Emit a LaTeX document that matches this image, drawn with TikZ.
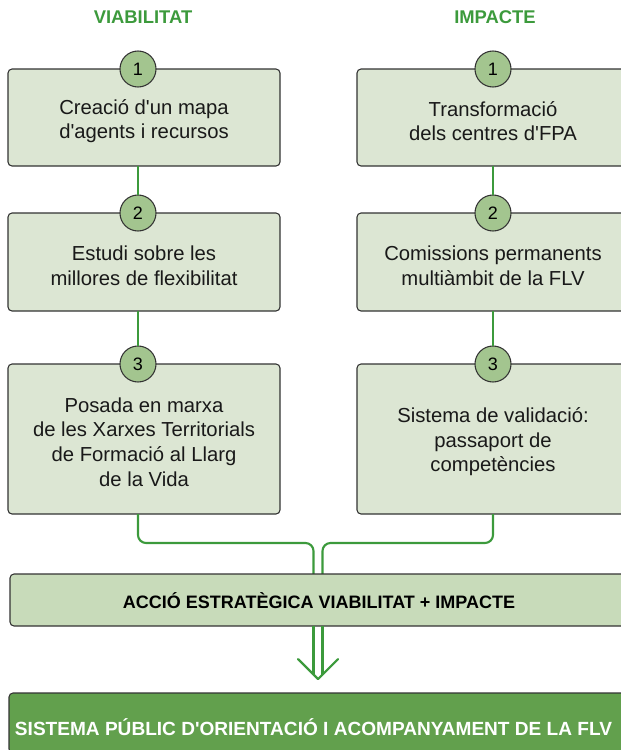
\documentclass[tikz,border=0pt]{standalone}
\usepackage{fontspec}
\setmainfont{Liberation Sans}[Ligatures=TeXOff]
\definecolor{lgreen}{HTML}{3C9A3C}
\definecolor{boxfill}{HTML}{DCE6D3}
\definecolor{circfill}{HTML}{A3C58F}
\definecolor{accfill}{HTML}{C8DBBA}
\definecolor{finfill}{HTML}{62A04D}
\definecolor{edge}{HTML}{333333}
\begin{document}
\begin{tikzpicture}[x=0.75pt,y=-0.75pt,
  stepbox/.style={draw=edge,fill=boxfill,line width=0.8pt,rounded corners=3pt,
    minimum width=204pt,inner sep=0pt,outer sep=0pt},
  steptext/.style={inner sep=0pt,align=center,
    font=\fontsize{15.2}{18.4}\selectfont,text=black!90},
  numc/.style={circle,draw=edge,fill=circfill,line width=0.8pt,minimum size=27pt,
    inner sep=0pt,outer sep=0pt,font=\fontsize{13.5}{14}\selectfont},
  head/.style={text=lgreen,font=\bfseries\fontsize{13.8}{16}\selectfont,inner sep=0pt},
  conn/.style={draw=lgreen,line width=1.6pt},
  widebox/.style={draw=edge,line width=0.8pt,rounded corners=3pt,inner sep=0pt,outer sep=0pt}
]
\useasboundingbox (0,0) rectangle (621,750);
\clip (0,0) rectangle (621,750);

% headers
\node[head] (hv) at (143,17) {VIABILITAT};
\node[head] (hi) at (495,17) {IMPACTE};

% left column
\node[stepbox,minimum height=72.75pt] (lb1) at (144,117.5) {};
\node[stepbox,minimum height=73.5pt] (lb2) at (144,262) {};
\node[stepbox,minimum height=112.5pt] (lb3) at (144,439) {};
\node[steptext] (lt1) at (144,121) {Creació d'un mapa\\d'agents i recursos};
\node[steptext] (lt2) at (144,266) {Estudi sobre les\\millores de flexibilitat};
\node[steptext] (lt3) at (144,442) {Posada en marxa\\de les Xarxes Territorials\\de Formació al Llarg\\de la Vida};
\node[numc] (lc1) at (138,69) {1};
\node[numc] (lc2) at (138,213) {2};
\node[numc] (lc3) at (138,364) {3};

% right column
\node[stepbox,minimum height=72.75pt] (rb1) at (493,117.5) {};
\node[stepbox,minimum height=73.5pt] (rb2) at (493,262) {};
\node[stepbox,minimum height=112.5pt] (rb3) at (493,439) {};
\node[steptext] (rt1) at (493,121) {Transformació\\dels centres d'FPA};
\node[steptext] (rt2) at (493,266) {Comissions permanents\\multiàmbit de la FLV};
\node[steptext] (rt3) at (493,442) {Sistema de validació:\\passaport de\\competències};
\node[numc] (rc1) at (493,69) {1};
\node[numc] (rc2) at (493,213) {2};
\node[numc] (rc3) at (493,364) {3};

% vertical connectors
\draw[conn] (lc2.north) -- (lc2.north |- lb1.south);
\draw[conn] (lc3.north) -- (lc3.north |- lb2.south);
\draw[conn] (rc2.north) -- (rc2.north |- rb1.south);
\draw[conn] (rc3.north) -- (rc3.north |- rb2.south);

% merge connectors
\coordinate (jl) at (313.5,543);
\coordinate (jr) at (322.5,543);
\draw[conn,rounded corners=6pt] (lc3.center |- lb3.south) -- (lc3.center |- jl) -- (jl) -- ++(0,40);
\draw[conn,rounded corners=6pt] (rc3.center |- rb3.south) -- (rc3.center |- jr) -- (jr) -- ++(0,40);

% strategic action box
\node[widebox,fill=accfill,minimum width=464.25pt,minimum height=39pt] (acc) at (319.5,600) {};
\node[inner sep=0pt,font=\bfseries\fontsize{13.5}{16}\selectfont] (acct) at (319,601) {ACCIÓ ESTRATÈGICA VIABILITAT + IMPACTE};

% double arrow
\coordinate (tip) at (318,679);
\coordinate (al) at (298,659);
\coordinate (ar) at (338,659);
\draw[conn] (acc.south -| jl) -- (313.5,674.5);
\draw[conn] (acc.south -| jr) -- (322.5,674.5);
\draw[conn,line cap=round,line join=round] (al) -- (tip) -- (ar);

% final box
\node[widebox,fill=finfill,minimum width=465pt,minimum height=45pt] (fin) at (319,723) {};
\node[inner sep=0pt,text=white,font=\bfseries\fontsize{14.3}{16}\selectfont] (fint) at (313.5,727) {SISTEMA PÚBLIC D'ORIENTACIÓ I ACOMPANYAMENT DE LA FLV};
\end{tikzpicture}
\end{document}
